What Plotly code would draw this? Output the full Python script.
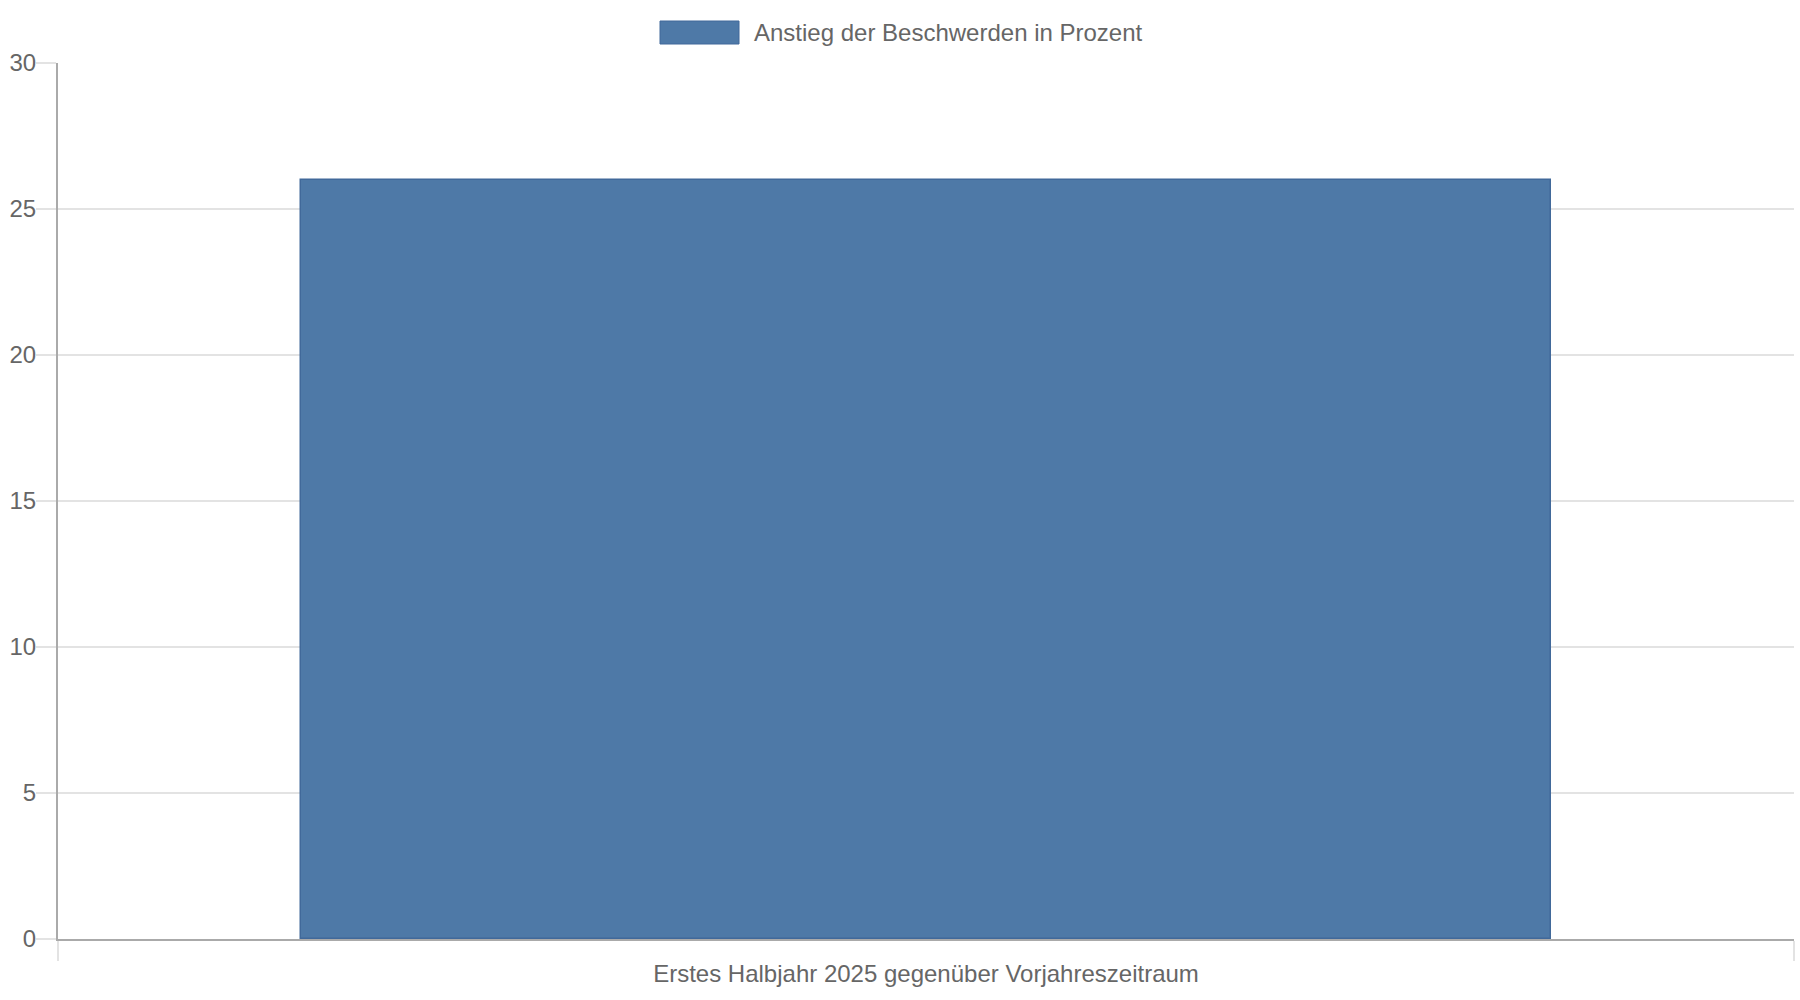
import plotly.graph_objects as go

categories = ["Erstes Halbjahr 2025 gegenüber Vorjahreszeitraum"]
series_name = "Anstieg der Beschwerden in Prozent"
values = [26]
y_ticks = [0, 5, 10, 15, 20, 25, 30]

BAR = "#4e79a7"
EDGE = "#41699a"
TXT = "#666666"
GRID = "#e3e3e3"
AXIS = "#aaaaaa"
FONT = "Liberation Sans, Arial, sans-serif"
FS = 24

fig = go.Figure()
fig.add_trace(go.Bar(
    x=categories, y=values, name=series_name,
    marker=dict(color=BAR, line=dict(color=EDGE, width=1.5)),
    width=0.72, showlegend=False,
))

W, H = 1800, 1000
ml, mr, mt, mb = 58, 6, 63, 61
pw, ph = W - ml - mr, H - mt - mb

def px(x):
    return (x - ml) / pw

def py(y):
    return (H - mb - y) / ph

fig.update_layout(
    width=W, height=H,
    margin=dict(l=ml, r=mr, t=mt, b=mb),
    paper_bgcolor="white", plot_bgcolor="white",
    font=dict(family=FONT, size=FS, color=TXT),
    bargap=0,
    shapes=[
        dict(type="rect", xref="paper", yref="paper",
             x0=px(660), x1=px(739), y0=py(44), y1=py(21),
             fillcolor=BAR, line=dict(color=EDGE, width=1)),
    ],
    annotations=[
        dict(text=series_name, xref="paper", yref="paper",
             x=px(752), y=py(32), xanchor="left", yanchor="middle",
             showarrow=False, font=dict(size=FS, color=TXT, family=FONT)),
    ],
)
fig.update_xaxes(
    type="category", range=[-0.5, 0.5],
    tickson="boundaries", ticks="outside", ticklen=20, tickcolor=GRID,
    tickwidth=2, ticklabelstandoff=12,
    showgrid=True, gridcolor=GRID, gridwidth=2,
    showline=True, linecolor=AXIS, linewidth=2,
    tickfont=dict(size=FS, color=TXT, family=FONT),
)
fig.update_yaxes(
    range=[0, 30], tickvals=y_ticks,
    ticks="outside", ticklen=20, tickcolor=GRID, tickwidth=2,
    ticklabelstandoff=-5,
    showgrid=True, gridcolor=GRID, gridwidth=2,
    showline=True, linecolor=AXIS, linewidth=2,
    zeroline=False,
    tickfont=dict(size=FS, color=TXT, family=FONT),
)

fig.write_html("out.html", config={"displayModeBar": False},
               post_script="document.body.style.margin='0';")
